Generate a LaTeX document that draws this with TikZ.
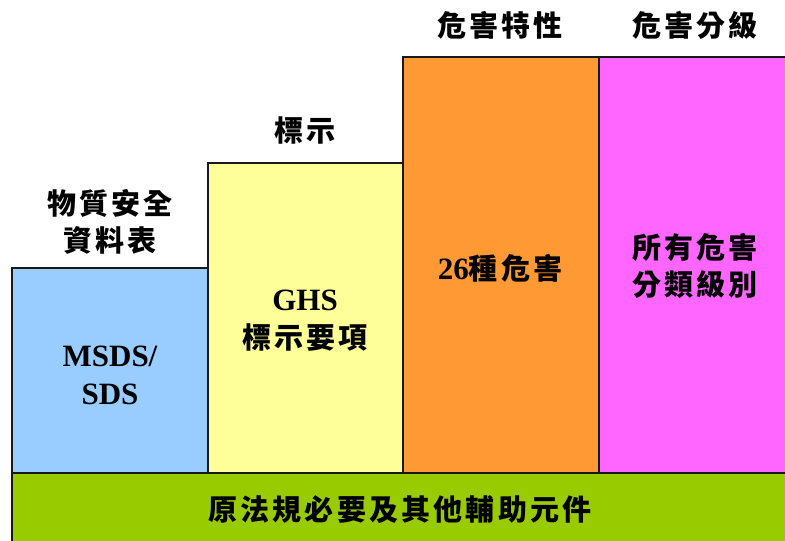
\documentclass[tikz,border=0pt]{standalone}
\usepackage{fontspec}
\setmainfont{Liberation Serif}
\newfontfamily\cjk[LetterSpace=11]{Noto Sans CJK TC}
\definecolor{msdsblue}{HTML}{99CCFF}
\definecolor{ghsyellow}{HTML}{FFFF99}
\definecolor{hazorange}{HTML}{FF9933}
\definecolor{classpink}{HTML}{FF66FF}
\definecolor{basegreen}{HTML}{99CC00}
\tikzset{
  bar/.style={draw=black!90, line width=1.4pt},
  head/.style={font=\cjk\bfseries\fontsize{29}{37}\selectfont, align=center},
  inbox/.style={font=\bfseries\fontsize{31}{38}\selectfont, align=center}
}
\begin{document}
\begin{tikzpicture}[x=1pt,y=-1pt]
			\useasboundingbox (0,0) rectangle (785,541);
			\clip (0,0) rectangle (785,541);
			% bars
			\draw[bar, fill=msdsblue] (12,268) rectangle (208,473);
			\draw[bar, fill=ghsyellow] (208,163) rectangle (403,473);
			\draw[bar, fill=hazorange] (403,57) rectangle (599,473);
			\draw[bar, fill=classpink] (599,57) rectangle (800,473);
			% base
			\draw[bar, fill=basegreen] (12,473) rectangle (800,560);
			
			% headings
			\node[head] (msdshead) at (110,222) {物質安全\\資料表};
			\node[head] (ghshead) at (305,130) {標示};
			\node[head] (hazhead) at (500,25) {危害特性};
			\node[head] (classhead) at (695,25) {危害分級};
			
			% texts in the bars
			\node[inbox] (msds) at (110,375) {MSDS/\\SDS};
			\node[inbox] (ghs) at (305,321) {GHS\\{\cjk\fontsize{29}{38}\selectfont 標示要項}};
			\node[inbox] (haz) at (500,268) {26{\cjk\fontsize{29}{38}\selectfont 種危害}};
			\node[inbox, font=\cjk\bfseries\fontsize{29}{37}\selectfont] (class) at (695,266) {所有危害\\分類級別};
			\node[inbox, font=\cjk\bfseries\fontsize{29}{37}\selectfont] (base) at (400,510) {原法規必要及其他輔助元件};
\end{tikzpicture}
\end{document}
